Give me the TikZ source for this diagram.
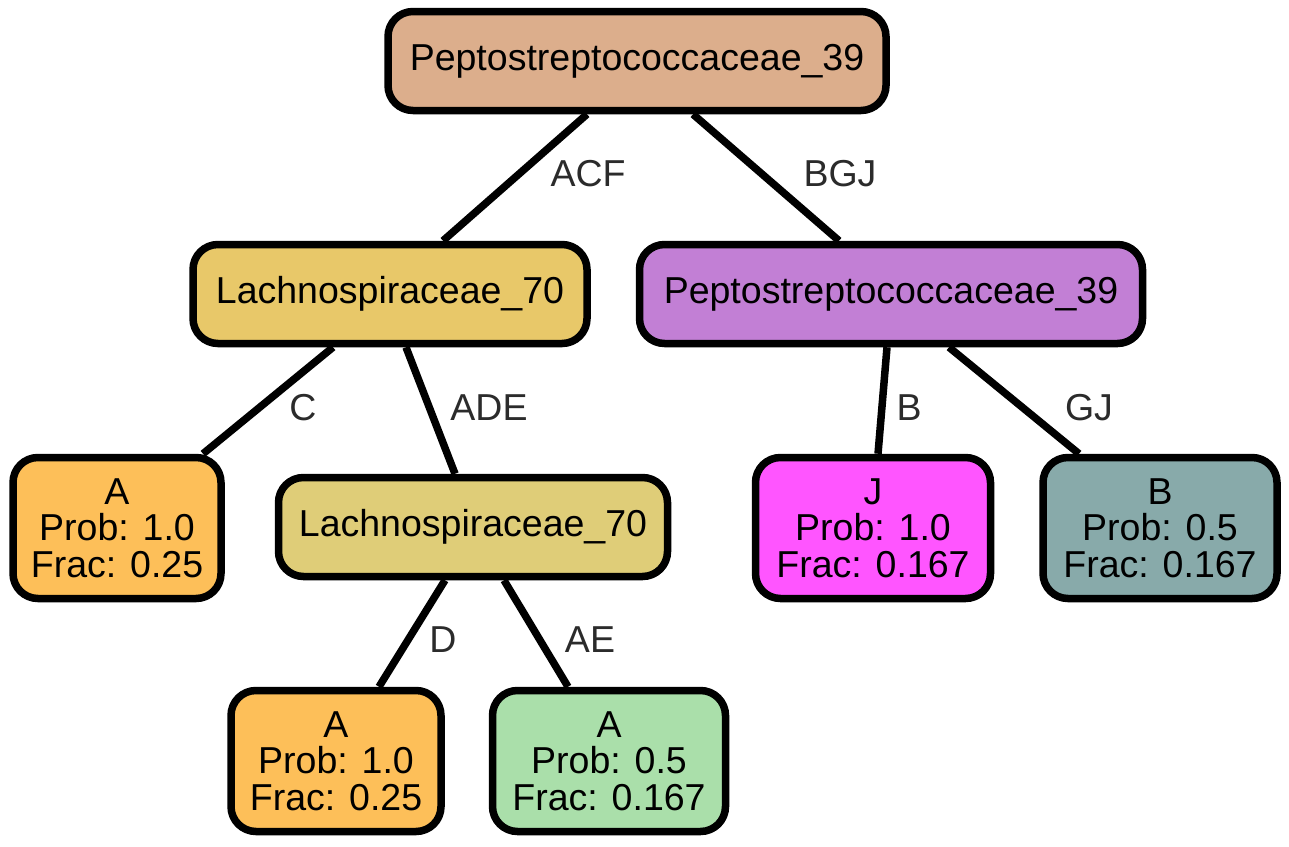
\documentclass[tikz,border=0pt]{standalone}
\usepackage{fontspec}
\setmainfont{Liberation Sans}
\usetikzlibrary{calc,backgrounds}
\definecolor{cRoot}{HTML}{DCAE8C}
\definecolor{cLachA}{HTML}{E8C869}
\definecolor{cLachB}{HTML}{DFCD78}
\definecolor{cPep}{HTML}{C27FD5}
\definecolor{cOrange}{HTML}{FDBF59}
\definecolor{cPink}{HTML}{FF55FF}
\definecolor{cTeal}{HTML}{88AAAA}
\definecolor{cGreen}{HTML}{AADFAA}
\definecolor{cLbl}{HTML}{2B2B2B}
\tikzset{
  box/.style={draw=black, line width=7.5pt, rounded corners=25pt, inner sep=0pt,
    align=center, font=\fontsize{37.5}{36.5}\selectfont, text=black},
  inner/.style={box, minimum height=99pt},
  leaf/.style={box, minimum height=141pt},
  lbl/.style={font=\fontsize{37.5}{37}\selectfont, text=cLbl, inner sep=0pt},
  conn/.style={line width=7.5pt, draw=black},
}
\begin{document}
\begin{tikzpicture}[x=1pt,y=-1pt]
\useasboundingbox (0,0) rectangle (1289,846);
\node[inner, fill=cRoot, minimum width=498pt] (root) at (637,61) {Peptostreptococcaceae\_39};
\node[inner, fill=cLachA, minimum width=394pt] (lach1) at (390,294) {Lachnospiraceae\_70};
\node[inner, fill=cPep, minimum width=503pt] (pep2) at (891,294) {Peptostreptococcaceae\_39};
\node[leaf, fill=cOrange, minimum width=208pt] (a1) at (117,528) {A\\Prob: 1.0\\Frac: 0.25};
\node[inner, fill=cLachB, minimum width=389pt] (lach2) at (473,527) {Lachnospiraceae\_70};
\node[leaf, fill=cPink, minimum width=235pt] (j) at (873,528) {J\\Prob: 1.0\\Frac: 0.167};
\node[leaf, fill=cTeal, minimum width=234pt] (b) at (1160,528) {B\\Prob: 0.5\\Frac: 0.167};
\node[leaf, fill=cOrange, minimum width=210pt] (a2) at (336,761) {A\\Prob: 1.0\\Frac: 0.25};
\node[leaf, fill=cGreen, minimum width=233pt] (a3) at (609,761) {A\\Prob: 0.5\\Frac: 0.167};

\node[lbl] (lACF) at (588,174) {ACF};
\node[lbl] (lBGJ) at (840,174) {BGJ};
\node[lbl] (lC) at (303,408) {C};
\node[lbl] (lADE) at (489,408) {ADE};
\node[lbl] (lB) at (909,408) {B};
\node[lbl] (lGJ) at (1089,408) {GJ};
\node[lbl] (lD) at (443,640) {D};
\node[lbl] (lAE) at (590,640) {AE};

\begin{pgfonlayer}{background}
\draw[conn] ($(root.south)+(-50,0)$) -- ($(lach1.north)+(53,0)$);
\draw[conn] ($(root.south)+(56,0)$) -- ($(pep2.north)+(-52,0)$);
\draw[conn] ($(lach1.south)+(-57,0)$) -- ($(a1.north)+(86,0)$);
\draw[conn] ($(lach1.south)+(16,0)$) -- ($(lach2.north)+(-18,0)$);
\draw[conn] ($(pep2.south)+(-4,0)$) -- ($(j.north)+(5,0)$);
\draw[conn] ($(pep2.south)+(58,0)$) -- ($(b.north)+(-81,0)$);
\draw[conn] ($(lach2.south)+(-28,0)$) -- ($(a2.north)+(43,0)$);
\draw[conn] ($(lach2.south)+(31,0)$) -- ($(a3.north)+(-41,0)$);
\end{pgfonlayer}
\end{tikzpicture}
\end{document}
